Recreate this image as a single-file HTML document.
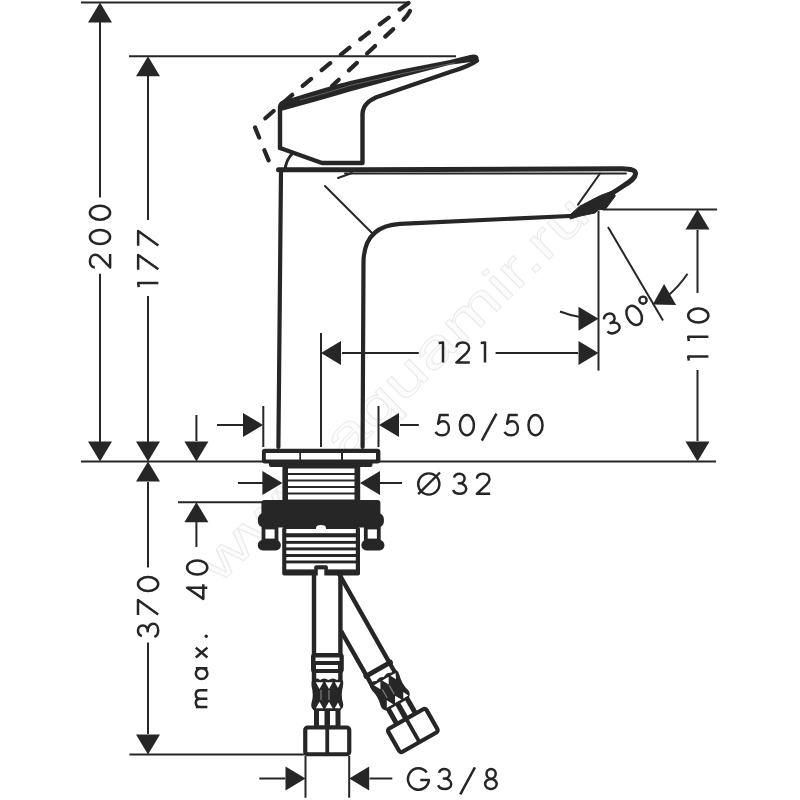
<!DOCTYPE html>
<html><head><meta charset="utf-8">
<style>
html,body{margin:0;padding:0;background:#fff;}
body{width:800px;height:800px;overflow:hidden;}
svg{display:block;}
text{font-family:"Liberation Sans",sans-serif;fill:#262626;}
</style></head>
<body>
<svg width="800" height="800" viewBox="0 0 800 800">
<rect width="800" height="800" fill="#fff"/>
<text transform="translate(219 585) rotate(-44.6)" font-size="52" textLength="524" lengthAdjust="spacingAndGlyphs" style="fill:#fcfcfc;stroke:#eaeaea;stroke-width:0.9">www.aquamir.ru</text>
<g stroke="#262626" stroke-width="2" fill="none">
<path d="M81 2.5H408.5"/>
<path d="M129 56.2H456"/>
<path d="M100 22V197.6M100 273.7V442"/>
<path d="M148 76V220M148 296V442"/>
<path d="M81 461.6H716"/>
<path d="M148 482V567.5M148 642.5V734"/>
<path d="M129.4 754.5H304.8"/>
<path d="M178 502.2H262"/>
<path d="M196.4 415V441M196.4 522V547"/>
<path d="M217 425H243M400 425H418.8"/>
<path d="M263.3 406V447M378.5 406V447"/>
<path d="M238 483H263M379 483H402"/>
<path d="M321 333V447"/>
<path d="M342 353H418.8M495.6 353H578"/>
<path d="M598.5 211V370.6"/>
<path d="M602.5 209.5H717"/>
<path d="M697.5 230V293.1M697.5 370V441"/>
<path d="M608 227L663 320.6"/>
<path d="M580 317.1A108.5 108.5 0 0 1 560 311.5"/>
<path d="M668.5 295.3A108.5 108.5 0 0 0 687.5 273.8"/>
<path d="M305.5 756V797.8M349.2 756V797.8"/>
<path d="M259.3 778.5H285.5M369.5 778.5H392.3"/>
</g>
<g fill="#262626" stroke="none">
<path d="M100 2.5L88 22.5H112Z"/>
<path d="M100 461.6L88 441.6H112Z"/>
<path d="M148 56.2L136 76.2H160Z"/>
<path d="M148 461.6L136 441.6H160Z"/>
<path d="M148 461.6L136 481.6H160Z"/>
<path d="M148 754.5L136 734.5H160Z"/>
<path d="M196.4 461.6L184.4 441.6H208.4Z"/>
<path d="M196.4 502.2L184.4 522.2H208.4Z"/>
<path d="M263 425L243 413V437Z"/>
<path d="M379 425L399 413V437Z"/>
<path d="M282.4 483L262.4 471V495Z"/>
<path d="M360 483L380 471V495Z"/>
<path d="M321 353L341 341V365Z"/>
<path d="M598.5 353L578.5 341V365Z"/>
<path d="M598.5 318.8L578.5 306.8V330.8Z"/>
<path d="M697.5 209.5L685.5 229.5H709.5Z"/>
<path d="M697.5 461.6L685.5 441.6H709.5Z"/>
<path d="M652.75 304.5L664.1 284.1L676.1 304.9Z"/>
<path d="M305.5 778.5L285.5 766.5V790.5Z"/>
<path d="M349.2 778.5L369.2 766.5V790.5Z"/>
</g>
<g stroke="#262626" fill="none" stroke-width="2.5" stroke-linecap="butt" stroke-linejoin="round">
<path transform="translate(100.00 260.90) rotate(-90)" d="M-6.5 -5.2C-6.3 -8.4 -3.6 -10.1 -0.2 -10.1C3.4 -10.1 6.1 -7.7 6.1 -4.6C6.1 -2.6 5.1 -1.2 3.4 0.6L-6.6 10.1H6.8"/>
<path transform="translate(100.00 237.00) rotate(-90)" d="M0 -10.1A7 10.1 0 1 1 0 10.1A7 10.1 0 1 1 0 -10.1Z"/>
<path transform="translate(100.00 212.70) rotate(-90)" d="M0 -10.1A7 10.1 0 1 1 0 10.1A7 10.1 0 1 1 0 -10.1Z"/>
<path transform="translate(148.25 282.90) rotate(-90)" d="M-4.3 -9.5L0 -10.1V10.1"/>
<path transform="translate(148.25 262.30) rotate(-90)" d="M-7.4 -10.1H7.4L-7 10.1"/>
<path transform="translate(148.25 238.40) rotate(-90)" d="M-7.4 -10.1H7.4L-7 10.1"/>
<path transform="translate(148.10 630.30) rotate(-90)" d="M-5.7 -6.2C-5 -8.8 -2.8 -10.1 -0.2 -10.1C2.8 -10.1 4.9 -8 4.9 -5.3C4.9 -2.4 2.6 -0.4 -0.9 -0.4C3.7 -0.4 6.5 2.2 6.5 5.1C6.5 8.2 3.6 10.1 -0.1 10.1C-3.2 10.1 -5.7 8.5 -6.6 6.3"/>
<path transform="translate(148.10 607.50) rotate(-90)" d="M-7.4 -10.1H7.4L-7 10.1"/>
<path transform="translate(148.10 584.10) rotate(-90)" d="M0 -10.1A7 10.1 0 1 1 0 10.1A7 10.1 0 1 1 0 -10.1Z"/>
<path transform="translate(197.20 591.70) rotate(-90)" d="M3.9 10.1V-10.1L-7.2 6.1H7.5"/>
<path transform="translate(197.20 567.50) rotate(-90)" d="M0 -10.1A7 10.1 0 1 1 0 10.1A7 10.1 0 1 1 0 -10.1Z"/>
<path transform="translate(698.30 356.40) rotate(-90)" d="M-4.3 -9.5L0 -10.1V10.1"/>
<path transform="translate(698.30 336.80) rotate(-90)" d="M-4.3 -9.5L0 -10.1V10.1"/>
<path transform="translate(698.30 315.60) rotate(-90)" d="M0 -10.1A7 10.1 0 1 1 0 10.1A7 10.1 0 1 1 0 -10.1Z"/>
<path transform="translate(443.00 352.50)" d="M-4.3 -9.5L0 -10.1V10.1"/>
<path transform="translate(463.00 352.50)" d="M-6.5 -5.2C-6.3 -8.4 -3.6 -10.1 -0.2 -10.1C3.4 -10.1 6.1 -7.7 6.1 -4.6C6.1 -2.6 5.1 -1.2 3.4 0.6L-6.6 10.1H6.8"/>
<path transform="translate(485.00 352.50)" d="M-4.3 -9.5L0 -10.1V10.1"/>
<path transform="translate(442.50 425.20)" d="M6.3 -10.1H-2.6L-4.4 -1.5C-3.2 -3.1 -1.5 -3.9 0.5 -3.9C3.9 -3.9 6.4 -1 6.4 3C6.4 7.3 3.5 10.1 -0.3 10.1C-3.3 10.1 -5.8 8.6 -7 6.6"/>
<path transform="translate(466.90 425.20)" d="M0 -10.1A7 10.1 0 1 1 0 10.1A7 10.1 0 1 1 0 -10.1Z"/>
<path transform="translate(489.15 425.20)" d="M7.3 -11.6L-7.3 15.4"/>
<path transform="translate(511.50 425.20)" d="M6.3 -10.1H-2.6L-4.4 -1.5C-3.2 -3.1 -1.5 -3.9 0.5 -3.9C3.9 -3.9 6.4 -1 6.4 3C6.4 7.3 3.5 10.1 -0.3 10.1C-3.3 10.1 -5.8 8.6 -7 6.6"/>
<path transform="translate(535.50 425.20)" d="M0 -10.1A7 10.1 0 1 1 0 10.1A7 10.1 0 1 1 0 -10.1Z"/>
<path transform="translate(459.70 483.75)" d="M-5.7 -6.2C-5 -8.8 -2.8 -10.1 -0.2 -10.1C2.8 -10.1 4.9 -8 4.9 -5.3C4.9 -2.4 2.6 -0.4 -0.9 -0.4C3.7 -0.4 6.5 2.2 6.5 5.1C6.5 8.2 3.6 10.1 -0.1 10.1C-3.2 10.1 -5.7 8.5 -6.6 6.3"/>
<path transform="translate(483.40 483.75)" d="M-6.5 -5.2C-6.3 -8.4 -3.6 -10.1 -0.2 -10.1C3.4 -10.1 6.1 -7.7 6.1 -4.6C6.1 -2.6 5.1 -1.2 3.4 0.6L-6.6 10.1H6.8"/>
<path transform="translate(418.40 779.00)" d="M8.3 -6.6A10.5 10.7 0 1 0 10.5 1.1H1.9"/>
<path transform="translate(444.75 779.00)" d="M-5.7 -6.2C-5 -8.8 -2.8 -10.1 -0.2 -10.1C2.8 -10.1 4.9 -8 4.9 -5.3C4.9 -2.4 2.6 -0.4 -0.9 -0.4C3.7 -0.4 6.5 2.2 6.5 5.1C6.5 8.2 3.6 10.1 -0.1 10.1C-3.2 10.1 -5.7 8.5 -6.6 6.3"/>
<path transform="translate(467.60 779.00)" d="M7.3 -11.6L-7.3 15.4"/>
<path transform="translate(490.90 779.00)" d="M0.2 -10.1A4.6 4.9 0 1 1 0.2 -0.3A4.6 4.9 0 1 1 0.2 -10.1ZM0 0.1A5.8 5 0 1 1 0 10.1A5.8 5 0 1 1 0 0.1Z"/>
<path transform="translate(611.50 323.25) rotate(-20)" d="M-5.7 -6.2C-5 -8.8 -2.8 -10.1 -0.2 -10.1C2.8 -10.1 4.9 -8 4.9 -5.3C4.9 -2.4 2.6 -0.4 -0.9 -0.4C3.7 -0.4 6.5 2.2 6.5 5.1C6.5 8.2 3.6 10.1 -0.1 10.1C-3.2 10.1 -5.7 8.5 -6.6 6.3"/>
<path transform="translate(634.15 315.40) rotate(-28)" d="M0 -10.1A7 10.1 0 1 1 0 10.1A7 10.1 0 1 1 0 -10.1Z"/>
<path transform="translate(207.4 707) rotate(-90)" d="M0 0V-11.6M0 -7.2C0 -10 1.8 -11.6 4.2 -11.6C6.6 -11.6 8.35 -10 8.35 -7.2V0M8.35 -7.2C8.35 -10 10.1 -11.6 12.5 -11.6C14.9 -11.6 16.7 -10 16.7 -7.2V0"/>
<path transform="translate(207.4 678.9) rotate(-90)" d="M5.3 -11.6A5.3 5.8 0 1 0 5.3 0A5.3 5.8 0 1 0 5.3 -11.6ZM10.6 -11.6V0"/>
<path transform="translate(207.4 657.5) rotate(-90)" d="M0 -11.6L9.9 0M9.9 -11.6L0 0"/>
<circle cx="206.2" cy="636.25" r="1.7" fill="#262626" stroke="none"/>
</g>
<g stroke="#262626" fill="none" stroke-width="2.4">
<circle cx="643" cy="300.2" r="3.6"/>
<circle cx="428.8" cy="484" r="10.6"/>
<path d="M418.2 494.2L440 472.5"/>
</g>
<g stroke="#262626" fill="none" stroke-linejoin="round" stroke-linecap="round">
<path d="M408.5 3Q330 60 255 127.5L270.5 165" stroke-width="4.2" stroke-dasharray="11 13.7"/>
<path d="M410 11Q407 17 401 22L332 86" stroke-width="4.2" stroke-dasharray="11 13.8"/>
<path d="M280 148V108Q280 104 284 102.5" stroke-width="4.4"/>
<path d="M278.5 105Q279 101.5 283 100.8Q330 86 350 81Q400 69 450 60L470 55Q477.5 53.5 478.5 57.5Q479 61 473 61.8L450 64.8Q400 77.5 350 91.5Q330 97.5 300 105.8L283 110.5Q278.5 111 278.5 107Z" fill="#262626" stroke="none"/>
<path d="M300 100Q330 92 350 85.5Q400 73.5 455 62.8" stroke="#fff" stroke-width="0.8" opacity="0.35"/>
<path d="M477 60.5Q469 66.5 450 72L380 96Q363 101.5 362.5 114V163H322L280 148" stroke-width="4.4"/>
<path d="M285 170Q286 160 292 154" stroke-width="3"/>
<path d="M338 178L352 173" stroke-width="2"/>
<path d="M278.4 447L281 171" stroke-width="4.2"/>
<path d="M278.5 169.8H360L622 168.7C631 168.7 636 170.5 635.5 174C635 178.5 630 181.5 624 185.5C618 189.5 614 192 610 194.5" stroke-width="5"/>
<path d="M345 173.5H626" stroke-width="1.8"/>
<path d="M570 216L400 223.8Q364 226 363.5 262L362.6 447" stroke-width="4.2"/>
<path d="M325 186L372 233" stroke-width="2"/>
<path d="M600 173.5L578 204.6" stroke-width="2"/>
<path d="M569.6 215.3L579.5 206.3L600.4 195.5L613 190.8L615.3 196L605.7 208.9L598.3 210L595 213L579 216.3L570.6 219Z" fill="#262626" stroke-width="1"/>
</g>

<g>
<path d="M314 574V654M340.4 574V654" stroke="#262626" stroke-width="4.4" fill="none"/>
<rect x="311" y="653" width="32.8" height="20" rx="3.5" fill="#262626"/>
<rect x="315.5" y="657.5" width="24" height="3.5" fill="#fff"/>
<rect x="316" y="665" width="22" height="4" fill="#fff"/>

<path d="M314 671V682M340.4 671V682" stroke="#262626" stroke-width="4.4" fill="none"/>
<path d="M311.5 684Q311 681 313 680.5Q316.5 677 320 680Q324 677 328.5 680Q333 677 337 680Q341 677.5 343 681Q343.6 683 343 686Q340.5 695 343 703Q344 707 341 709.5Q340 711 336 711H318Q314 711 313 709.5Q310.5 707 311.5 703Q314 695 311.5 686Z" fill="#262626"/>
<path d="M315.8 682.3H323.2L319.5 689Z M325.3 682.3H332.7L329 689Z M334.8 682.3H340.6L338 688Z" fill="#fff"/>
<path d="M315.8 708.3H323.2L319.5 701.8Z M325.3 708.3H332.7L329 701.8Z M334.8 708.3H340.6L338 702.6Z" fill="#fff"/>
<path d="M321 690V700M329 690V700" stroke="#777" stroke-width="1.3"/>
<rect x="314" y="709" width="26.5" height="18" fill="#262626"/>
<rect x="319" y="711" width="5.5" height="14.5" fill="#fff"/>
<rect x="330" y="711" width="5.5" height="14.5" fill="#fff"/>
<rect x="305.25" y="727.5" width="44" height="26.75" rx="2.5" fill="#fff" stroke="#262626" stroke-width="4.2"/>
<path d="M327.25 727V755" stroke="#262626" stroke-width="3.8"/>

</g>
<g transform="rotate(-29.6 326.5 580) translate(0 12.6)">
<path d="M340.4 566V670M314 619V670" stroke="#262626" stroke-width="4.4" fill="none"/>
<rect x="311" y="668" width="32.8" height="5" rx="1.5" fill="#262626"/>

<path d="M314 671V682M340.4 671V682" stroke="#262626" stroke-width="4.4" fill="none"/>
<path d="M311.5 684Q311 681 313 680.5Q316.5 677 320 680Q324 677 328.5 680Q333 677 337 680Q341 677.5 343 681Q343.6 683 343 686Q340.5 695 343 703Q344 707 341 709.5Q340 711 336 711H318Q314 711 313 709.5Q310.5 707 311.5 703Q314 695 311.5 686Z" fill="#262626"/>
<path d="M315.8 682.3H323.2L319.5 689Z M325.3 682.3H332.7L329 689Z M334.8 682.3H340.6L338 688Z" fill="#fff"/>
<path d="M315.8 708.3H323.2L319.5 701.8Z M325.3 708.3H332.7L329 701.8Z M334.8 708.3H340.6L338 702.6Z" fill="#fff"/>
<path d="M321 690V700M329 690V700" stroke="#777" stroke-width="1.3"/>
<rect x="314" y="709" width="26.5" height="18" fill="#262626"/>
<rect x="319" y="711" width="5.5" height="14.5" fill="#fff"/>
<rect x="330" y="711" width="5.5" height="14.5" fill="#fff"/>
<rect x="305.25" y="727.5" width="44" height="26.75" rx="2.5" fill="#fff" stroke="#262626" stroke-width="4.2"/>
<path d="M327.25 727V755" stroke="#262626" stroke-width="3.8"/>

</g>

<g fill="#262626" stroke="none">
<rect x="261.9" y="448.8" width="118.5" height="14.8" rx="3"/>
<rect x="269" y="455" width="103.5" height="12" rx="2"/>
<rect x="265.8" y="453" width="33.5" height="6.5" fill="#fff"/>
<rect x="301" y="453" width="40" height="6.5" fill="#fff"/>
<rect x="343" y="453" width="33" height="6.5" fill="#fff"/>
<rect x="282.4" y="466" width="77.8" height="34"/>
<rect x="288" y="468.5" width="66.5" height="4.5" fill="#fff"/>
<rect x="288" y="475" width="66.5" height="4.5" fill="#fff"/>
<rect x="288" y="481.5" width="66.5" height="4.5" fill="#fff"/>
<rect x="288" y="488" width="66.5" height="4.5" fill="#fff"/>
<rect x="288" y="494.5" width="66.5" height="5" fill="#fff"/>
<rect x="261.4" y="500" width="119" height="17.5" rx="3"/>
<rect x="257.9" y="513" width="126" height="14.5" rx="6"/>
<rect x="263.5" y="527.5" width="13" height="13" fill="#fff" stroke="#262626" stroke-width="3.8"/>
<rect x="365.8" y="527.5" width="13" height="13" fill="#fff" stroke="#262626" stroke-width="3.8"/>
<rect x="257.8" y="540" width="23" height="10.5" rx="5"/>
<rect x="361.4" y="540" width="23" height="10.5" rx="5"/>
<rect x="282.2" y="527" width="77.8" height="48.5" rx="2"/>
<rect x="286.3" y="529" width="69.5" height="4.2" fill="#fff"/>
<rect x="286.3" y="537.3" width="69.5" height="3.6" fill="#fff"/>
<rect x="286.3" y="543.8" width="69.5" height="3.6" fill="#fff"/>
<rect x="286.3" y="550.4" width="69.5" height="3.6" fill="#fff"/>
<rect x="286.3" y="557" width="69.5" height="3.5" fill="#fff"/>
<rect x="286.3" y="563.4" width="69.5" height="6" fill="#fff"/>
<rect x="314.2" y="565.2" width="13.7" height="6" rx="2"/>
<rect x="317.8" y="569.4" width="6.5" height="6.6" fill="#fff"/>
<path d="M316 533V528Q316 525 321 525Q326 525 326 528V533Z" fill="#fff"/>
</g>
</svg>
</body></html>
